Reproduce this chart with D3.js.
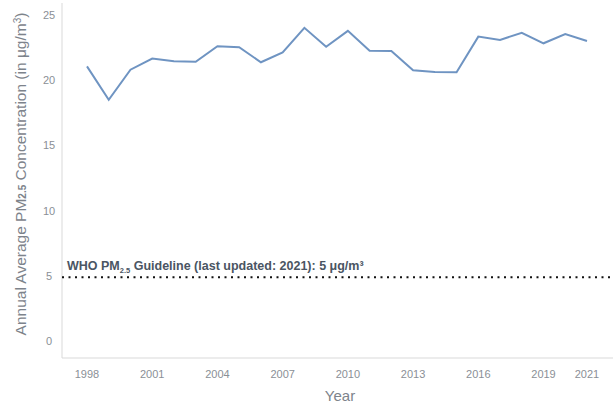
<!DOCTYPE html>
<html>
<head>
<meta charset="utf-8">
<script src="https://cdn.jsdelivr.net/npm/d3@7"></script>
<style>
  body { margin: 0; background: #fff; }
  svg { display: block; font-family: "Liberation Sans", Arial, sans-serif; }
</style>
</head>
<body>
<svg id="chart"></svg>
<script>
// Data
const years = d3.range(1998, 2022);
const pm25 = [21.05, 18.5, 20.8, 21.65, 21.45, 21.4, 22.6, 22.52, 21.37, 22.13,
              24.0, 22.55, 23.77, 22.25, 22.23, 20.75, 20.62, 20.6, 23.33, 23.08,
              23.62, 22.82, 23.53, 23.0];
const xTicks = [1998, 2001, 2004, 2007, 2010, 2013, 2016, 2019, 2021];
const yTicks = [0, 5, 10, 15, 20, 25];
const guideline = 5;

// Constants
const width = 613;
const height = 406;
const axisX = 62;
const axisY = 358;

const svg = d3.select("#chart")
  .attr("width", width)
  .attr("height", height);

const x = d3.scaleLinear().domain([1998, 2021]).range([87, 587]);
const y = d3.scaleLinear().domain([0, 25]).range([341.5, 14.8]);

// Axis lines
svg.append("line")
  .attr("x1", axisX).attr("x2", axisX)
  .attr("y1", 3).attr("y2", axisY)
  .attr("stroke", "#d9d9d9").attr("stroke-width", 1);
svg.append("line")
  .attr("x1", axisX).attr("x2", width)
  .attr("y1", axisY).attr("y2", axisY)
  .attr("stroke", "#d9d9d9").attr("stroke-width", 1);

// Tick labels
svg.append("g")
  .selectAll("text")
  .data(yTicks)
  .join("text")
    .attr("x", 49)
    .attr("y", d => y(d))
    .attr("dy", "0.35em")
    .attr("text-anchor", "middle")
    .attr("fill", "#8a8f96")
    .attr("font-size", 11)
    .text(d => d);

svg.append("g")
  .selectAll("text")
  .data(xTicks)
  .join("text")
    .attr("x", d => x(d))
    .attr("y", 378)
    .attr("text-anchor", "middle")
    .attr("fill", "#8a8f96")
    .attr("font-size", 11)
    .text(d => d);

// Axis titles
svg.append("text")
  .attr("x", 340)
  .attr("y", 401)
  .attr("text-anchor", "middle")
  .attr("fill", "#7d838b")
  .attr("font-size", 15)
  .text("Year");

const yTitle = svg.append("text")
  .attr("transform", "translate(26,174) rotate(-90)")
  .attr("text-anchor", "middle")
  .attr("fill", "#7d838b")
  .attr("font-size", 15.5);
yTitle.append("tspan").text("Annual Average PM");
yTitle.append("tspan").attr("font-size", 10).attr("font-weight", "bold").text("2.5");
yTitle.append("tspan").text(" Concentration (in μg/m");
yTitle.append("tspan").attr("font-size", 10).attr("dy", -5).text("3");
yTitle.append("tspan").attr("dy", 5).text(")");

// Guideline
svg.append("line")
  .attr("x1", axisX).attr("x2", width)
  .attr("y1", y(guideline) + 1).attr("y2", y(guideline) + 1)
  .attr("stroke", "#111")
  .attr("stroke-width", 2)
  .attr("stroke-dasharray", "2,4.5");

const who = svg.append("text")
  .attr("x", 67)
  .attr("y", 270)
  .attr("fill", "#4a5563")
  .attr("font-size", 12.5)
  .attr("font-weight", "bold");
who.append("tspan").text("WHO PM");
who.append("tspan").attr("font-size", 7.5).attr("dy", 3).text("2.5");
who.append("tspan").attr("dy", -3).text(" Guideline (last updated: 2021): 5 μg/m³");

// Line
const line = d3.line()
  .x((d, i) => x(years[i]))
  .y(d => y(d));

svg.append("path")
  .datum(pm25)
  .attr("fill", "none")
  .attr("stroke", "#6f94c2")
  .attr("stroke-width", 2)
  .attr("d", line);
</script>
</body>
</html>
